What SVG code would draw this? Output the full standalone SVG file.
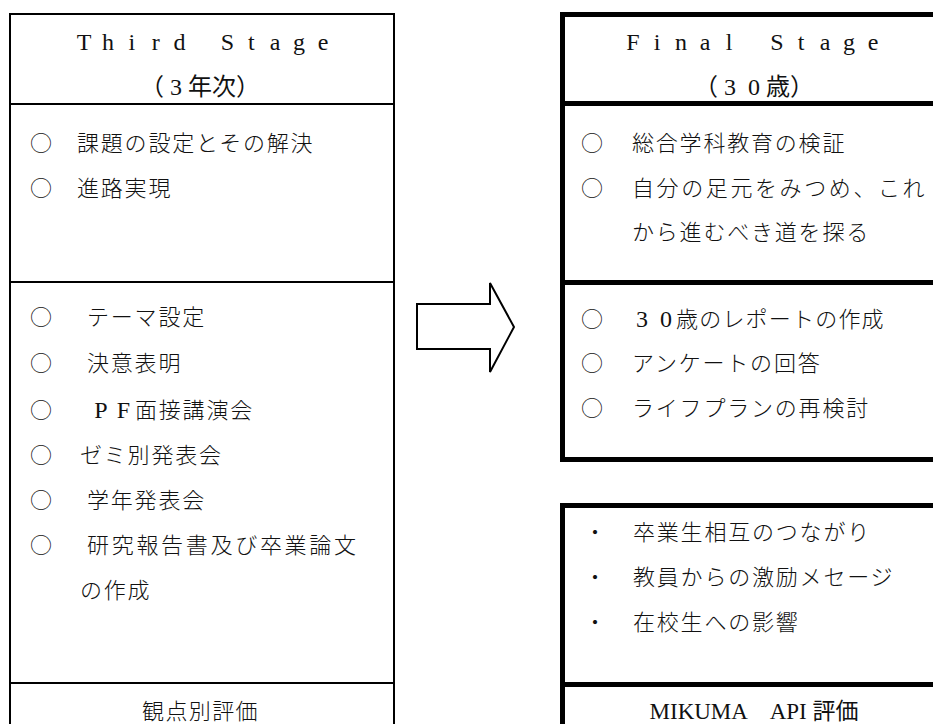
<svg xmlns="http://www.w3.org/2000/svg" width="933" height="724" viewBox="0 0 933 724">
<style>
.thin{fill:#fff;stroke:#000;stroke-width:2}
.thinl{stroke:#000;stroke-width:2}
.thick{fill:#fff;stroke:#000;stroke-width:5}
.thickl{stroke:#000;stroke-width:5}
.t{font-family:'Noto Sans CJK JP',sans-serif;font-size:22px;font-weight:300;letter-spacing:1.8px;fill:#111}
.b{font-family:'Noto Sans CJK JP',sans-serif;font-size:22px;font-weight:300;fill:#111}
.s{font-family:'Liberation Serif','Noto Sans CJK JP',serif;font-size:24px;fill:#111;text-anchor:middle}
.arrow{fill:#fff;stroke:#000;stroke-width:2;stroke-linejoin:miter}
</style>
<rect width="933" height="724" fill="#fff"/>

<g id="third-stage">
  <rect class="thin" x="10" y="14" width="384" height="800"/>
  <line class="thinl" x1="10" y1="104" x2="394" y2="104"/>
  <line class="thinl" x1="10" y1="282" x2="394" y2="282"/>
  <line class="thinl" x1="10" y1="683" x2="394" y2="683"/>
  <text class="s" x="84 107.9 131.8 155.7 179.6 227.4 251.3 275.2 299.1 323" y="50">ThirdStage</text>
  <text class="s" x="152 176 200 224 248" y="95">（3年次）</text>
  <text class="b" x="30" y="151">○</text><text class="t" x="77" y="151">課題の設定とその解決</text>
  <text class="b" x="30" y="196">○</text><text class="t" x="77" y="196">進路実現</text>
  <text class="b" x="30" y="325">○</text><text class="t" x="87" y="325">テーマ設定</text>
  <text class="b" x="30" y="371">○</text><text class="t" x="87" y="371">決意表明</text>
  <text class="b" x="30" y="418">○</text><text class="s" x="101 123.5" y="418">PF</text><text class="t" x="135" y="418">面接講演会</text>
  <text class="b" x="30" y="463">○</text><text class="t" x="80" y="463">ゼミ別発表会</text>
  <text class="b" x="30" y="508">○</text><text class="t" x="87" y="508">学年発表会</text>
  <text class="b" x="30" y="553">○</text><text class="t" x="87" y="553" style="letter-spacing:2.7px">研究報告書及び卒業論文</text>
  <text class="t" x="80" y="598">の作成</text>
  <text class="t" x="142" y="719" style="letter-spacing:1.4px">観点別評価</text>
</g>

<g id="connectors">
  <polygon class="arrow" points="417,304 490,304 490,283 514,327 490,372 490,349 417,349"/>
</g>

<g id="final-stage">
  <rect class="thick" x="562.5" y="14.5" width="420" height="445"/>
  <line class="thickl" x1="562.5" y1="103.5" x2="940" y2="103.5"/>
  <line class="thickl" x1="562.5" y1="282.5" x2="940" y2="282.5"/>
  <text class="s" x="633 657 681 705 729 777 801 825 849 873" y="50">FinalStage</text>
  <text class="s" x="706 730 754 778 802" y="95">（30歳）</text>
  <text class="b" x="581" y="151">○</text><text class="t" x="632" y="151">総合学科教育の検証</text>
  <text class="b" x="581" y="196">○</text><text class="t" x="632" y="196" style="letter-spacing:2.6px">自分の足元をみつめ、これ</text>
  <text class="t" x="632" y="240">から進むべき道を探る</text>
  <text class="b" x="581" y="327">○</text><text class="s" x="642 666" y="327">30</text><text class="t" x="676" y="327" style="letter-spacing:1.2px">歳のレポートの作成</text>
  <text class="b" x="581" y="371">○</text><text class="t" x="632" y="371">アンケートの回答</text>
  <text class="b" x="581" y="416">○</text><text class="t" x="632" y="416">ライフプランの再検討</text>
</g>

<g id="final-stage-evaluation">
  <rect class="thick" x="562.5" y="505.5" width="420" height="400"/>
  <line class="thickl" x1="562.5" y1="684.5" x2="940" y2="684.5"/>
  <text class="b" x="584" y="540">・</text><text class="t" x="633" y="540">卒業生相互のつながり</text>
  <text class="b" x="584" y="585">・</text><text class="t" x="633" y="585">教員からの激励メセージ</text>
  <text class="b" x="584" y="630">・</text><text class="t" x="633" y="630">在校生への影響</text>
  <text class="s" x="754" y="719" style="font-size:23px">MIKUMA　API 評価</text>
</g>
</svg>
